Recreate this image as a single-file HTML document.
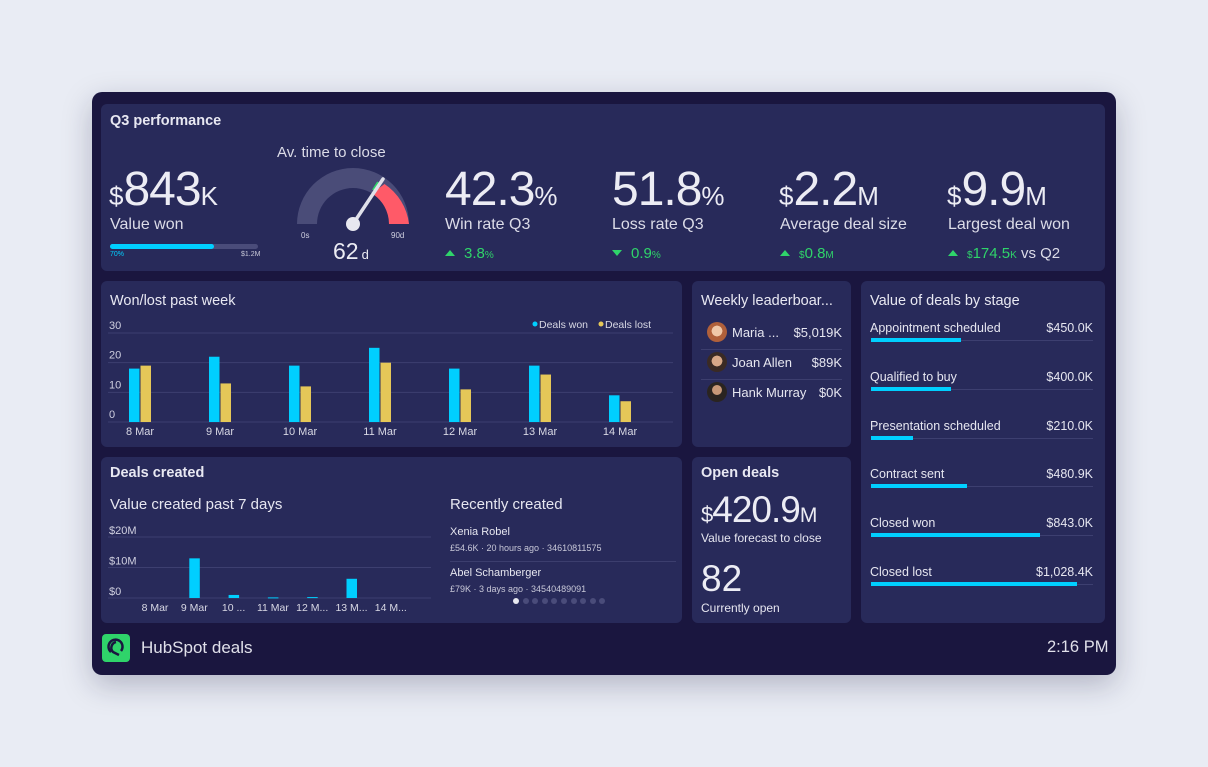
<!DOCTYPE html>
<html><head><meta charset="utf-8">
<style>
*{box-sizing:border-box;margin:0;padding:0}
body{width:1208px;height:767px;background:#e9ecf4;font-family:"Liberation Sans",sans-serif;color:#e6e6f0;position:relative;overflow:hidden}
.frame{position:absolute;left:92px;top:92px;width:1024px;height:583px;background:#1a163f;border-radius:10px;box-shadow:0 10px 30px rgba(20,20,60,.25)}
.panel{position:absolute;background:#282a5a;border-radius:6px}
.abs{position:absolute;white-space:nowrap}
.title{font-size:14.5px;font-weight:bold;color:#e8e8f2}
.big{font-size:48px;color:#ececf4;letter-spacing:-1px}
.big small{font-size:26px;letter-spacing:0}
.lbl{font-size:16px;color:#dcdce8}
.delta{font-size:15px;color:#2fd46a}
.delta small{font-size:10px}
.tri-up{display:inline-block;width:0;height:0;border-left:5px solid transparent;border-right:5px solid transparent;border-bottom:6px solid #2fd46a;margin-right:9px;vertical-align:2px}
.tri-dn{display:inline-block;width:0;height:0;border-left:5px solid transparent;border-right:5px solid transparent;border-top:6px solid #2fd46a;margin-right:9px;vertical-align:2px}
svg text{font-family:"Liberation Sans",sans-serif}
</style></head><body>
<div class="frame"></div>

<!-- Q3 performance -->
<div class="panel" style="left:101px;top:104px;width:1004px;height:167px">
  <div class="abs title" style="left:9px;top:9px">Q3 performance</div>
  <div class="abs big" style="left:8px;top:58px"><small>$</small>843<small>K</small></div>
  <div class="abs lbl" style="left:9px;top:112px">Value won</div>
  <div class="abs" style="left:9px;top:140px;width:148px;height:5px;background:#4a4c7a;border-radius:3px"><div style="width:70%;height:5px;background:#00cfff;border-radius:3px"></div></div>
  <div class="abs" style="left:9px;top:147px;font-size:7px;color:#00cfff">70%</div>
  <div class="abs" style="left:140px;top:147px;font-size:7px;color:#c8c8d8">$1.2M</div>
  <div class="abs lbl" style="left:176px;top:40px;font-size:15px">Av. time to close</div>
  <svg class="abs" style="left:180px;top:58px" width="150" height="110">
    <path d="M16 62 A56 56 0 0 1 128 62 L108 62 A36 36 0 0 0 36 62 Z" fill="#4a4c78"/>
    <path d="M103.5 22 A56 56 0 0 1 128 62 L108 62 A36 36 0 0 0 91 31.5 Z" fill="#ff5a68"/>
    <line x1="97" y1="20" x2="92" y2="28" stroke="#2fd46a" stroke-width="2"/>
    <line x1="72" y1="62" x2="102" y2="17" stroke="#e0e0ea" stroke-width="3.5" stroke-linecap="round"/>
    <circle cx="72" cy="62" r="7" fill="#e8e8f0"/>
    <text x="20" y="76" font-size="8" fill="#d0d0e0">0s</text>
    <text x="110" y="76" font-size="8" fill="#d0d0e0">90d</text>
    <text x="52" y="97" font-size="23" fill="#ececf4">62<tspan font-size="13" dx="3">d</tspan></text>
  </svg>
  <div class="abs big" style="left:344px;top:58px">42.3<small>%</small></div>
  <div class="abs lbl" style="left:344px;top:112px">Win rate Q3</div>
  <div class="abs delta" style="left:344px;top:141px"><span class="tri-up"></span>3.8<small>%</small></div>
  <div class="abs big" style="left:511px;top:58px">51.8<small>%</small></div>
  <div class="abs lbl" style="left:511px;top:112px">Loss rate Q3</div>
  <div class="abs delta" style="left:511px;top:141px"><span class="tri-dn"></span>0.9<small>%</small></div>
  <div class="abs big" style="left:678px;top:58px"><small>$</small>2.2<small>M</small></div>
  <div class="abs lbl" style="left:679px;top:112px">Average deal size</div>
  <div class="abs delta" style="left:679px;top:141px"><span class="tri-up"></span><small>$</small>0.8<small>M</small></div>
  <div class="abs big" style="left:846px;top:58px"><small>$</small>9.9<small>M</small></div>
  <div class="abs lbl" style="left:847px;top:112px">Largest deal won</div>
  <div class="abs delta" style="left:847px;top:141px"><span class="tri-up"></span><small>$</small>174.5<small>K</small> <span style="color:#dcdce8">vs Q2</span></div>
</div>

<!-- Won/lost -->
<div class="panel" style="left:101px;top:281px;width:581px;height:166px">
  <div class="abs title" style="left:9px;top:12px;font-weight:normal;font-size:14.5px">Won/lost past week</div>
</div>
<svg class="abs" id="wl" style="left:0;top:0" width="1208" height="767"></svg>

<!-- leaderboard -->
<div class="panel" style="left:692px;top:281px;width:159px;height:166px">
  <div class="abs title" style="left:9px;top:12px;font-weight:normal">Weekly leaderboar...</div>
  <div class="abs" style="left:15px;top:41px;width:20px;height:20px;border-radius:50%;background:radial-gradient(circle at 50% 45%,#f0c8a8 35%,#b0603a 37%)"></div>
  <div class="abs" style="left:40px;top:44px;font-size:13px">Maria ...</div>
  <div class="abs" style="right:9px;top:44px;font-size:13px">$5,019K</div>
  <div class="abs" style="left:9px;top:68px;width:141px;height:1px;background:#3c3e6e"></div>
  <div class="abs" style="left:15px;top:71px;width:20px;height:20px;border-radius:50%;background:radial-gradient(circle at 50% 45%,#d8a888 35%,#3a2a24 37%)"></div>
  <div class="abs" style="left:40px;top:74px;font-size:13px">Joan Allen</div>
  <div class="abs" style="right:9px;top:74px;font-size:13px">$89K</div>
  <div class="abs" style="left:9px;top:98px;width:141px;height:1px;background:#3c3e6e"></div>
  <div class="abs" style="left:15px;top:101px;width:20px;height:20px;border-radius:50%;background:radial-gradient(circle at 50% 40%,#c89878 30%,#2a2420 33%)"></div>
  <div class="abs" style="left:40px;top:104px;font-size:13px">Hank Murray</div>
  <div class="abs" style="right:9px;top:104px;font-size:13px">$0K</div>
</div>

<!-- stages -->
<div class="panel" style="left:861px;top:281px;width:244px;height:342px">
  <div class="abs title" style="left:9px;top:12px;font-weight:normal">Value of deals by stage</div>
</div>
<div id="stages"></div>

<!-- deals created -->
<div class="panel" style="left:101px;top:457px;width:581px;height:166px">
  <div class="abs title" style="left:9px;top:8px">Deals created</div>
  <div class="abs" style="left:9px;top:39px;font-size:15px">Value created past 7 days</div>
  <div class="abs" style="left:349px;top:39px;font-size:15px">Recently created</div>
  <div class="abs" style="left:349px;top:69px;font-size:11px">Xenia Robel</div>
  <div class="abs" style="left:349px;top:86px;font-size:9px;color:#c8c8d8">£54.6K · 20 hours ago · 34610811575</div>
  <div class="abs" style="left:349px;top:104px;width:226px;height:1px;background:#3c3e6e"></div>
  <div class="abs" style="left:349px;top:110px;font-size:11px">Abel Schamberger</div>
  <div class="abs" style="left:349px;top:127px;font-size:9px;color:#c8c8d8">£79K · 3 days ago · 34540489091</div>
  <div class="abs" style="left:412px;top:141px;display:flex;gap:3.6px">
    <span style="width:6px;height:6px;border-radius:50%;background:#e8e8f0"></span>
    <span style="width:6px;height:6px;border-radius:50%;background:#4a4c7a"></span><span style="width:6px;height:6px;border-radius:50%;background:#4a4c7a"></span><span style="width:6px;height:6px;border-radius:50%;background:#4a4c7a"></span><span style="width:6px;height:6px;border-radius:50%;background:#4a4c7a"></span><span style="width:6px;height:6px;border-radius:50%;background:#4a4c7a"></span><span style="width:6px;height:6px;border-radius:50%;background:#4a4c7a"></span><span style="width:6px;height:6px;border-radius:50%;background:#4a4c7a"></span><span style="width:6px;height:6px;border-radius:50%;background:#4a4c7a"></span><span style="width:6px;height:6px;border-radius:50%;background:#4a4c7a"></span>
  </div>
</div>
<svg class="abs" id="dc" style="left:0;top:0" width="1208" height="767"></svg>

<!-- open deals -->
<div class="panel" style="left:692px;top:457px;width:159px;height:166px">
  <div class="abs title" style="left:9px;top:8px">Open deals</div>
  <div class="abs" style="left:9px;top:32px;font-size:37px;color:#ececf4;letter-spacing:-1px"><span style="font-size:22px">$</span>420.9<span style="font-size:21px">M</span></div>
  <div class="abs" style="left:9px;top:74px;font-size:12px">Value forecast to close</div>
  <div class="abs" style="left:9px;top:101px;font-size:37px;color:#ececf4">82</div>
  <div class="abs" style="left:9px;top:144px;font-size:12px">Currently open</div>
</div>

<!-- footer -->
<div class="abs" style="left:102px;top:634px;width:28px;height:28px;background:#2fd46a;border-radius:4px">
  <svg width="28" height="28"><path d="M9 18 A7 7 0 1 1 19 17 M14 8 A6 6 0 0 0 11 18 L17 21" fill="none" stroke="#1a163f" stroke-width="2.5"/></svg>
</div>
<div class="abs" style="left:141px;top:638px;font-size:17px;color:#e0e0ea">HubSpot deals</div>
<div class="abs" style="left:1047px;top:638px;font-size:16.5px;color:#e0e0ea">2:16 PM</div>

<script>
const wlDays=["8 Mar","9 Mar","10 Mar","11 Mar","12 Mar","13 Mar","14 Mar"];
const wlWon=[18,22,19,25,18,19,9];
const wlLost=[19,13,12,20,11,16,7];
const wlTicks=[0,10,20,30];
const dcDays=["8 Mar","9 Mar","10 ...","11 Mar","12 M...","13 M...","14 M..."];
const dcValues=[0,13,1,0.2,0.3,6.3,0];
const dcTicks=[0,10,20];
const dcTickLabels=["$0","$10M","$20M"];
const stageNames=["Appointment scheduled","Qualified to buy","Presentation scheduled","Contract sent","Closed won","Closed lost"];
const stageValues=[450.0,400.0,210.0,480.9,843.0,1028.4];
const stageLabels=["$450.0K","$400.0K","$210.0K","$480.9K","$843.0K","$1,028.4K"];

const NS="http://www.w3.org/2000/svg";
function mk(svg,tag,attrs,txt){const e=document.createElementNS(NS,tag);for(const k in attrs)e.setAttribute(k,attrs[k]);if(txt!==undefined)e.textContent=txt;svg.appendChild(e);return e;}

// won/lost chart
const wl=document.getElementById('wl');
const wy=v=>422-v*(89/30);
const wx=i=>140+i*80;
wlTicks.forEach(t=>{
  const l=mk(wl,'line',{x1:108,x2:673,y1:wy(t),y2:wy(t),stroke:'#3d3f70','stroke-width':1});
  
  
  const tx=mk(wl,'text',{x:109,y:wy(t)-4,'font-size':11,fill:'#d0d0e0'},t);
  
  
});
wlDays.forEach((d,i)=>{
  const b1=mk(wl,'rect',{x:wx(i)-11,y:wy(wlWon[i]),width:10.5,height:wy(0)-wy(wlWon[i]),fill:'#00cfff'});
  
  
  const b2=mk(wl,'rect',{x:wx(i)+0.5,y:wy(wlLost[i]),width:10.5,height:wy(0)-wy(wlLost[i]),fill:'#e5c758'});
  
  
  const t=mk(wl,'text',{x:wx(i),y:435,'font-size':11,fill:'#d8d8e4','text-anchor':'middle'},d);
  
  
});
const lg1=mk(wl,'circle',{cx:535,cy:324,r:2.5,fill:'#00cfff'});


const lt1=mk(wl,'text',{x:539,y:328,'font-size':10.5,fill:'#d8d8e4'},'Deals won');


const lg2=mk(wl,'circle',{cx:601,cy:324,r:2.5,fill:'#e5c758'});


const lt2=mk(wl,'text',{x:605,y:328,'font-size':10.5,fill:'#d8d8e4'},'Deals lost');



// deals created chart
const dc=document.getElementById('dc');
const dy=v=>598-v*3.05;
const dx=i=>155+i*39.3;
dcTicks.forEach((t,k)=>{
  const l=mk(dc,'line',{x1:108,x2:431,y1:dy(t),y2:dy(t),stroke:'#3d3f70','stroke-width':1});
  
  
  const tx=mk(dc,'text',{x:109,y:dy(t)-3,'font-size':11,fill:'#d0d0e0'},dcTickLabels[k]);
  
  
});
dcDays.forEach((d,i)=>{
  if(dcValues[i]>0){
    const b=mk(dc,'rect',{x:dx(i)-5,y:dy(dcValues[i]),width:10.5,height:Math.max(1,dy(0)-dy(dcValues[i])),fill:'#00cfff'});
    
    
  }
  const t=mk(dc,'text',{x:dx(i),y:611,'font-size':10.5,fill:'#d8d8e4','text-anchor':'middle'},d);
  
  
});

// stages
const st=document.getElementById('stages');
const sx=v=>v*0.2;
stageNames.forEach((n,i)=>{
  const top=321+i*48.8;
  const a=document.createElement('div');a.className='abs';a.style.cssText=`left:870px;top:${top}px;font-size:12.5px`;a.textContent=n;
  
  
  st.appendChild(a);
  const b=document.createElement('div');b.className='abs';b.style.cssText=`right:115px;top:${top}px;font-size:12.5px`;b.textContent=stageLabels[i];
  
  
  st.appendChild(b);
  const tr=document.createElement('div');tr.className='abs';tr.style.cssText=`left:871px;top:${top+19}px;width:222px;height:1px;background:#3d3f70`;
  
  
  st.appendChild(tr);
  const br=document.createElement('div');br.className='abs';br.style.cssText=`left:871px;top:${top+17}px;width:${sx(stageValues[i])}px;height:4px;background:#00cfff`;
  
  
  st.appendChild(br);
});
</script>
</body></html>
